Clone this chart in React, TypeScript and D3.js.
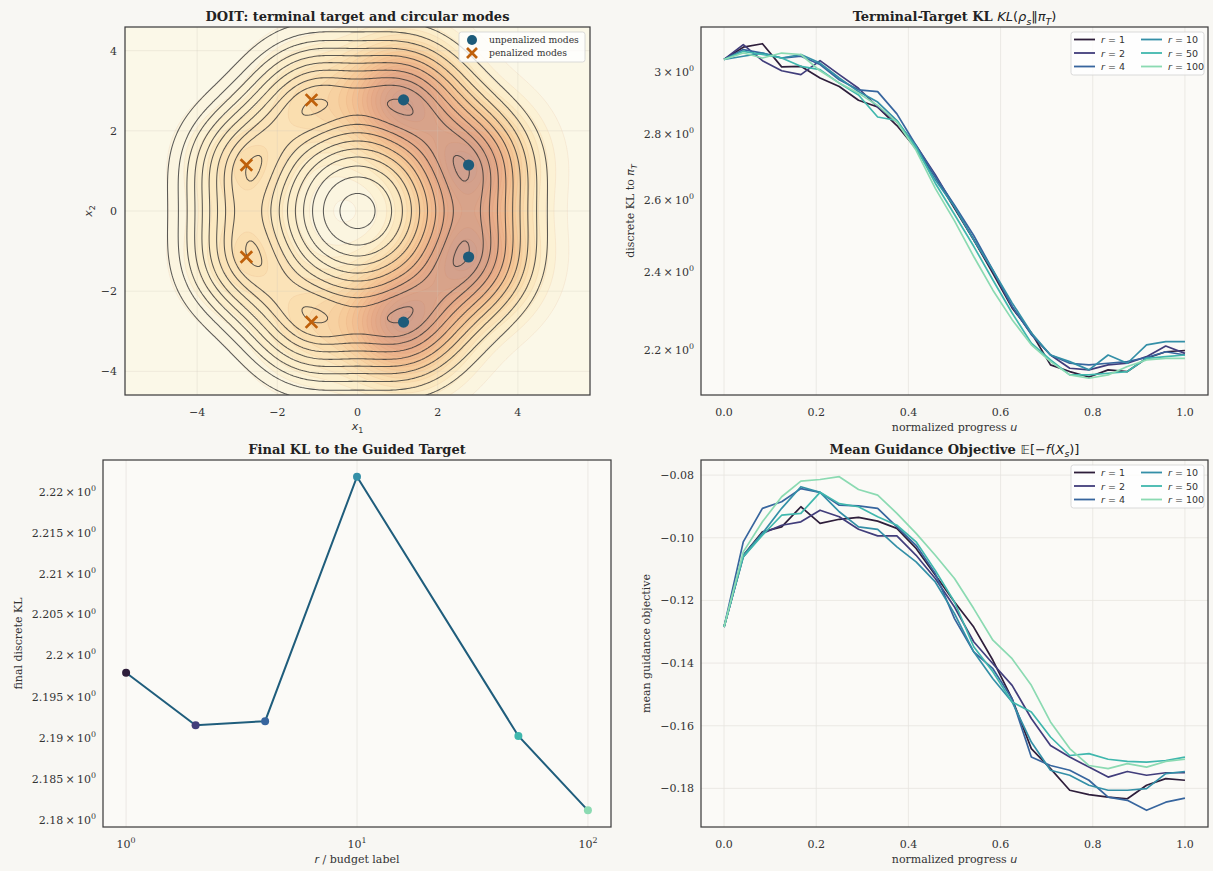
import React, { useEffect, useRef } from 'react';
import * as d3 from 'd3';

// normalized progress grid (25 checkpoints)
const progress = [0, 0.0417, 0.0833, 0.125, 0.1667, 0.2083, 0.25, 0.2917, 0.3333, 0.375, 0.4167, 0.4583, 0.5,
  0.5417, 0.5833, 0.625, 0.6667, 0.7083, 0.75, 0.7917, 0.8333, 0.875, 0.9167, 0.9583, 1];

const budgets = [1, 2, 4, 10, 50, 100];
const budgetColors = ['#2e1e3b', '#413d7b', '#37659e', '#348fa7', '#40b7ad', '#8bdab2'];

// discrete KL to pi_T along the run
const klR1 = [3.041, 3.083, 3.095, 3.016, 3.018, 2.979, 2.951, 2.906, 2.884, 2.825, 2.753, 2.669, 2.576, 2.487, 2.396, 2.305, 2.242, 2.163, 2.147, 2.134, 2.151, 2.147, 2.179, 2.195, 2.198];
const klR2 = [3.041, 3.092, 3.037, 3.003, 2.990, 3.037, 2.990, 2.945, 2.884, 2.836, 2.763, 2.674, 2.580, 2.487, 2.401, 2.309, 2.238, 2.187, 2.155, 2.151, 2.163, 2.167, 2.183, 2.209, 2.191];
const klR4 = [3.041, 3.075, 3.063, 3.046, 3.052, 3.024, 2.973, 2.940, 2.934, 2.862, 2.763, 2.669, 2.585, 2.499, 2.404, 2.309, 2.238, 2.187, 2.167, 2.163, 2.167, 2.171, 2.181, 2.195, 2.187];
const klR10 = [3.041, 3.052, 3.063, 3.046, 3.058, 3.029, 2.979, 2.934, 2.900, 2.841, 2.753, 2.659, 2.580, 2.487, 2.404, 2.318, 2.242, 2.187, 2.171, 2.151, 2.187, 2.167, 2.212, 2.220, 2.220];
const klR50 = [3.041, 3.069, 3.058, 3.046, 3.018, 3.007, 2.962, 2.923, 2.852, 2.841, 2.758, 2.649, 2.558, 2.469, 2.378, 2.292, 2.216, 2.175, 2.139, 2.139, 2.143, 2.147, 2.179, 2.183, 2.187];
const klR100 = [3.041, 3.063, 3.046, 3.063, 3.058, 3.003, 2.962, 2.929, 2.889, 2.836, 2.748, 2.634, 2.540, 2.441, 2.351, 2.275, 2.212, 2.171, 2.139, 2.131, 2.139, 2.159, 2.175, 2.179, 2.179];
const klSeries = [klR1, klR2, klR4, klR10, klR50, klR100];

// mean guidance objective along the run
const objR1 = [-0.1285, -0.1056, -0.0981, -0.0965, -0.0901, -0.0954, -0.0941, -0.0935, -0.0947, -0.0970, -0.1034, -0.1119, -0.1205, -0.1285, -0.1391, -0.1514, -0.1673, -0.1737, -0.1806, -0.1820, -0.1828, -0.1833, -0.1790, -0.1769, -0.1774];
const objR2 = [-0.1285, -0.1061, -0.0986, -0.0960, -0.0949, -0.0912, -0.0933, -0.0973, -0.0994, -0.0994, -0.1056, -0.1130, -0.1221, -0.1332, -0.1402, -0.1471, -0.1577, -0.1663, -0.1700, -0.1732, -0.1764, -0.1746, -0.1758, -0.1750, -0.1750];
const objR4 = [-0.1285, -0.1013, -0.0906, -0.0885, -0.0843, -0.0855, -0.0896, -0.0898, -0.0906, -0.0965, -0.1024, -0.1114, -0.1258, -0.1364, -0.1418, -0.1514, -0.1700, -0.1727, -0.1742, -0.1774, -0.1828, -0.1838, -0.1870, -0.1844, -0.1831];
const objR10 = [-0.1285, -0.1056, -0.0986, -0.0906, -0.0837, -0.0855, -0.0917, -0.0965, -0.0973, -0.1029, -0.1077, -0.1141, -0.1242, -0.1364, -0.1450, -0.1524, -0.1652, -0.1742, -0.1758, -0.1790, -0.1806, -0.1806, -0.1801, -0.1753, -0.1746];
const objR50 = [-0.1285, -0.1061, -0.0992, -0.0928, -0.0922, -0.0855, -0.0891, -0.0901, -0.0933, -0.0960, -0.1013, -0.1104, -0.1205, -0.1348, -0.1428, -0.1524, -0.1556, -0.1636, -0.1695, -0.1689, -0.1707, -0.1714, -0.1716, -0.1711, -0.1700];
const objR100 = [-0.1285, -0.1045, -0.0949, -0.0869, -0.0819, -0.0814, -0.0805, -0.0846, -0.0864, -0.0922, -0.0986, -0.1056, -0.1130, -0.1226, -0.1327, -0.1386, -0.1471, -0.1588, -0.1673, -0.1727, -0.1737, -0.1721, -0.1732, -0.1714, -0.1707];
const objSeries = [objR1, objR2, objR4, objR10, objR50, objR100];

// final KL per budget
const finalKL = [2.1979, 2.1915, 2.1920, 2.2219, 2.1902, 2.1812];

// circular modes of the terminal target
const modeAngles = [22.5, 67.5, 112.5, 157.5, 202.5, 247.5, 292.5, 337.5];
const modePenalized = [false, false, true, true, true, true, false, false];
const modeRadius = 3;
const modeSigma = 1.1;
const guidedSigma = 0.95;
const penalizedWeight = 0.28;
const lineLevels = [0.19, 0.285, 0.38, 0.475, 0.57, 0.665, 0.76, 0.845, 0.915, 0.99];
const fillLevels = [0.03, 0.07, 0.11, 0.16, 0.21, 0.26, 0.31, 0.36, 0.41, 0.46, 0.51, 0.56, 0.61, 0.66, 0.71, 0.76, 0.81, 0.86, 0.91, 0.96];

// ticks
const tlTicks = [-4, -2, 0, 2, 4];
const progressTicks = [0, 0.2, 0.4, 0.6, 0.8, 1.0];
const klTicks = [2.2, 2.4, 2.6, 2.8, 3];
const finalTicks = [2.18, 2.185, 2.19, 2.195, 2.2, 2.205, 2.21, 2.215, 2.22];
const budgetTicks = [1, 10, 100];
const objTicks = [-0.18, -0.16, -0.14, -0.12, -0.10, -0.08];

const W = 1213;
const H = 871;
const FIG_BG = '#f8f7f3';
const AX_BG = '#fbfaf7';
const GRID = '#e7e5e0';
const FRAME = '#3f3f3f';
const TXT = '#333333';
const SERIF = "'DejaVu Serif', serif";
const SANS = "'DejaVu Sans', sans-serif";

type Part = { t: string; italic?: boolean; sans?: boolean; sub?: boolean; sup?: boolean; normal?: boolean };

function rich(sel: any, parts: Part[], size: number) {
  let shift = 0;
  parts.forEach(p => {
    const ts = sel.append('tspan').text(p.t);
    const target = p.sub ? size * 0.3 : p.sup ? -size * 0.45 : 0;
    if (target !== shift) {
      ts.attr('dy', target - shift);
      shift = target;
    }
    ts.attr('font-size', p.sub || p.sup ? size * 0.72 : size);
    if (p.italic) ts.attr('font-style', 'italic');
    if (p.sans) ts.attr('font-family', SANS);
    if (p.normal) ts.attr('font-weight', 'normal');
  });
}

const App = () => {
  const ref = useRef<SVGSVGElement>(null);

  useEffect(() => {
    document.body.style.margin = '0';
    const svg = d3.select(ref.current);
    svg.selectAll('*').remove();

    svg.append('rect').attr('width', W).attr('height', H).attr('fill', FIG_BG);

    const tl = { x: 125, y: 27, w: 465, h: 368 };
    const tr = { x: 701, y: 27, w: 507, h: 368 };
    const bl = { x: 103, y: 460, w: 508, h: 367 };
    const br = { x: 701, y: 460, w: 507, h: 367 };

    const text = (x: number, y: number, parts: Part[], size: number, anchor = 'middle', opts: any = {}) => {
      const t = svg.append('text')
        .attr('x', x).attr('y', y)
        .attr('text-anchor', anchor)
        .attr('font-family', opts.family || SERIF)
        .attr('font-weight', opts.bold ? 'bold' : 'normal')
        .attr('fill', opts.color || TXT);
      if (opts.rotate) t.attr('transform', `rotate(-90,${x},${y})`);
      rich(t, parts, size);
      return t;
    };

    const axesBg = (b: any) => svg.append('rect').attr('x', b.x).attr('y', b.y).attr('width', b.w).attr('height', b.h).attr('fill', AX_BG);
    const axesFrame = (b: any) => svg.append('rect').attr('x', b.x).attr('y', b.y).attr('width', b.w).attr('height', b.h)
      .attr('fill', 'none').attr('stroke', FRAME).attr('stroke-width', 1.25);

    // ---------- top-left: contour panel ----------
    axesBg(tl);
    const xs = d3.scaleLinear().domain([-5.8, 5.8]).range([tl.x, tl.x + tl.w]);
    const ys = d3.scaleLinear().domain([-4.59, 4.59]).range([tl.y + tl.h, tl.y]);

    const step = 0.05;
    const gx0 = -6.5;
    const gy0 = -5.3;
    const nx = Math.round(13 / step) + 1;
    const ny = Math.round(10.6 / step) + 1;
    const mx = modeAngles.map(a => modeRadius * Math.cos((a * Math.PI) / 180));
    const my = modeAngles.map(a => modeRadius * Math.sin((a * Math.PI) / 180));
    const twoT = 2 * modeSigma * modeSigma;
    const twoG = 2 * guidedSigma * guidedSigma;
    const term = new Array(nx * ny);
    const guid = new Array(nx * ny);
    let tMax = 0;
    let gMax = 0;
    for (let j = 0; j < ny; j++) {
      for (let i = 0; i < nx; i++) {
        const x = gx0 + i * step;
        const y = gy0 + j * step;
        let s = 0;
        let g = 0;
        for (let k = 0; k < mx.length; k++) {
          const d2 = (x - mx[k]) ** 2 + (y - my[k]) ** 2;
          s += Math.exp(-d2 / twoT);
          g += (modePenalized[k] ? penalizedWeight : 1) * Math.exp(-d2 / twoG);
        }
        term[j * nx + i] = s;
        guid[j * nx + i] = g;
        if (s > tMax) tMax = s;
        if (g > gMax) gMax = g;
      }
    }
    for (let i = 0; i < term.length; i++) {
      term[i] /= tMax;
      guid[i] /= gMax;
    }

    const proj = d3.geoTransform({
      point: function (px: number, py: number) {
        (this as any).stream.point(xs(gx0 + (px - 0.5) * step), ys(gy0 + (py - 0.5) * step));
      }
    });
    const path = d3.geoPath(proj);

    svg.append('clipPath').attr('id', 'tl-clip')
      .append('rect').attr('x', tl.x).attr('y', tl.y).attr('width', tl.w).attr('height', tl.h);
    const cg = svg.append('g').attr('clip-path', 'url(#tl-clip)');

    const fillColor = d3.scaleLinear<string>()
      .domain([0, 0.1, 0.25, 0.4, 0.55, 0.7, 0.85, 1])
      .range(['#fbf8e8', '#fcefcd', '#fadfb0', '#f6cc9b', '#f0ba8f', '#e6ab89', '#d9a38a', '#cd9f8f'])
      .interpolate(d3.interpolateRgb);

    cg.append('rect').attr('x', tl.x).attr('y', tl.y).attr('width', tl.w).attr('height', tl.h)
      .attr('fill', fillColor(0));

    const fills = d3.contours().size([nx, ny]).thresholds(fillLevels)(guid as any);
    cg.append('g').selectAll('path').data(fills).join('path')
      .attr('d', (d: any) => path(d))
      .attr('fill', (d: any) => fillColor(d.value))
      .attr('stroke', 'rgba(200,120,70,0.16)')
      .attr('stroke-width', 0.6);

    // faint grid
    const gg = cg.append('g').attr('stroke', '#cfc8b8').attr('stroke-opacity', 0.35).attr('stroke-width', 0.8);
    tlTicks.forEach(v => {
      gg.append('line').attr('x1', xs(v)).attr('x2', xs(v)).attr('y1', tl.y).attr('y2', tl.y + tl.h);
      gg.append('line').attr('y1', ys(v)).attr('y2', ys(v)).attr('x1', tl.x).attr('x2', tl.x + tl.w);
    });

    const lines = d3.contours().size([nx, ny]).thresholds(lineLevels)(term as any);
    cg.append('g').selectAll('path').data(lines).join('path')
      .attr('d', (d: any) => path(d))
      .attr('fill', 'none')
      .attr('stroke', '#333333')
      .attr('stroke-opacity', 0.8)
      .attr('stroke-width', 1.05);

    // mode markers
    const modeBlue = '#1d5b7a';
    const modeOrange = '#bf600b';
    const xMark = (cx: number, cy: number, r: number, parent: any) => {
      parent.append('path')
        .attr('d', `M${cx - r},${cy - r}L${cx + r},${cy + r}M${cx - r},${cy + r}L${cx + r},${cy - r}`)
        .attr('stroke', modeOrange).attr('stroke-width', 2.7).attr('fill', 'none');
    };
    modeAngles.forEach((_, k) => {
      if (modePenalized[k]) xMark(xs(mx[k]), ys(my[k]), 5.8, cg);
      else cg.append('circle').attr('cx', xs(mx[k])).attr('cy', ys(my[k])).attr('r', 5.6).attr('fill', modeBlue);
    });

    // legend
    const lgX = tl.x + tl.w - 131;
    const lgY = tl.y + 5;
    svg.append('rect').attr('x', lgX).attr('y', lgY).attr('width', 126).attr('height', 30).attr('rx', 2.5)
      .attr('fill', 'rgba(255,255,255,0.8)').attr('stroke', '#d2d2d2').attr('stroke-width', 0.8);
    svg.append('circle').attr('cx', lgX + 13).attr('cy', lgY + 8).attr('r', 5).attr('fill', modeBlue);
    xMark(lgX + 13, lgY + 21, 5, svg);
    text(lgX + 30, lgY + 11, [{ t: 'unpenalized modes' }], 9.2, 'start');
    text(lgX + 30, lgY + 24, [{ t: 'penalized modes' }], 9.2, 'start');

    axesFrame(tl);
    tlTicks.forEach(v => {
      text(xs(v), tl.y + tl.h + 21, [{ t: v < 0 ? `\u2212${-v}` : `${v}` }], 11);
      text(tl.x - 8, ys(v) + 4, [{ t: v < 0 ? `\u2212${-v}` : `${v}` }], 11, 'end');
    });
    text(tl.x + tl.w / 2, 21, [{ t: 'DOIT: terminal target and circular modes' }], 13, 'middle', { bold: true, color: '#222' });
    text(tl.x + tl.w / 2, tl.y + tl.h + 35, [{ t: 'x', italic: true, sans: true }, { t: '1', sans: true, sub: true }], 11);
    text(92, tl.y + tl.h / 2, [{ t: 'x', italic: true, sans: true }, { t: '2', sans: true, sub: true }], 11, 'middle', { rotate: true });

    // ---------- line panels ----------
    const legendLines = (b: any) => {
      const lx = b.x + b.w - 137;
      const ly = b.y + 5;
      svg.append('rect').attr('x', lx).attr('y', ly).attr('width', 133).attr('height', 43).attr('rx', 2.5)
        .attr('fill', 'rgba(255,255,255,0.8)').attr('stroke', '#d2d2d2').attr('stroke-width', 0.8);
      budgets.forEach((r, i) => {
        const col = Math.floor(i / 3);
        const row = i % 3;
        const x0 = lx + 3 + col * 67;
        const y0 = ly + 7.5 + row * 13.5;
        svg.append('line').attr('x1', x0).attr('x2', x0 + 21).attr('y1', y0).attr('y2', y0)
          .attr('stroke', budgetColors[i]).attr('stroke-width', 1.8);
        text(x0 + 27, y0 + 3.5, [{ t: 'r', italic: true, sans: true }, { t: ` = ${r}`, sans: true }], 9.5, 'start');
      });
    };

    const progressPanel = (b: any, series: number[][], ys2: any, hGrid: boolean) => {
      axesBg(b);
      const xs2 = d3.scaleLinear().domain([-0.05, 1.05]).range([b.x, b.x + b.w]);
      const g = svg.append('g');
      progressTicks.forEach(v => {
        g.append('line').attr('x1', xs2(v)).attr('x2', xs2(v)).attr('y1', b.y).attr('y2', b.y + b.h)
          .attr('stroke', GRID).attr('stroke-width', 0.8);
        text(xs2(v), b.y + b.h + 20.5, [{ t: v.toFixed(1) }], 11);
      });
      if (hGrid) {
        objTicks.forEach(v => {
          g.append('line').attr('y1', ys2(v)).attr('y2', ys2(v)).attr('x1', b.x).attr('x2', b.x + b.w)
            .attr('stroke', GRID).attr('stroke-width', 0.8);
        });
      }
      const line = d3.line<number>().x((_, i) => xs2(progress[i])).y(d => ys2(d));
      series.forEach((s, i) => {
        g.append('path').attr('d', line(s)).attr('fill', 'none')
          .attr('stroke', budgetColors[i]).attr('stroke-width', 1.7).attr('stroke-linejoin', 'round');
      });
      legendLines(b);
      axesFrame(b);
      text(b.x + b.w / 2, b.y + b.h + 35.5, [{ t: 'normalized progress ' }, { t: 'u', italic: true, sans: true }], 11);
    };

    // top-right: KL (log y)
    const klAll = klSeries.flat();
    const klLo = Math.log10(d3.min(klAll)!);
    const klHi = Math.log10(d3.max(klAll)!);
    const klPad = (klHi - klLo) * 0.05;
    const ysKL = d3.scaleLog().domain([10 ** (klLo - klPad), 10 ** (klHi + klPad)]).range([tr.y + tr.h, tr.y]);
    progressPanel(tr, klSeries, ysKL, false);
    klTicks.forEach(v => {
      text(tr.x - 7, ysKL(v) + 4, [{ t: `${v === 3 ? '3' : v.toFixed(1)}\u2009\u00d7\u200910` }, { t: '0', sup: true }], 11, 'end');
    });
    text(tr.x + tr.w / 2, 21, [
      { t: 'Terminal-Target KL ' },
      { t: 'KL', italic: true, sans: true, normal: true },
      { t: '(', sans: true, normal: true },
      { t: 'ρ', italic: true, sans: true, normal: true },
      { t: 's', italic: true, sans: true, normal: true, sub: true },
      { t: '‖', sans: true, normal: true },
      { t: 'π', italic: true, sans: true, normal: true },
      { t: 'T', italic: true, sans: true, normal: true, sub: true },
      { t: ')', sans: true, normal: true }
    ], 13, 'middle', { bold: true, color: '#222' });
    text(634, tr.y + tr.h / 2, [{ t: 'discrete KL to ' }, { t: 'π', italic: true, sans: true }, { t: 'T', italic: true, sans: true, sub: true }], 11, 'middle', { rotate: true });

    // bottom-right: guidance objective
    const objAll = objSeries.flat();
    const oLo = d3.min(objAll)!;
    const oHi = d3.max(objAll)!;
    const oPad = (oHi - oLo) * 0.05;
    const ysObj = d3.scaleLinear().domain([oLo - oPad, oHi + oPad]).range([br.y + br.h, br.y]);
    progressPanel(br, objSeries, ysObj, true);
    objTicks.forEach(v => {
      text(br.x - 7, ysObj(v) + 4, [{ t: `\u2212${(-v).toFixed(2)}` }], 11, 'end');
    });
    text(br.x + br.w / 2, br.y - 6.5, [
      { t: 'Mean Guidance Objective ' },
      { t: '𝔼', sans: true, normal: true },
      { t: '[\u2212', sans: true, normal: true },
      { t: 'f', italic: true, sans: true, normal: true },
      { t: '(', sans: true, normal: true },
      { t: 'X', italic: true, sans: true, normal: true },
      { t: 's', italic: true, sans: true, normal: true, sub: true },
      { t: ')]', sans: true, normal: true }
    ], 13, 'middle', { bold: true, color: '#222' });
    text(650, br.y + br.h / 2, [{ t: 'mean guidance objective' }], 11, 'middle', { rotate: true });

    // ---------- bottom-left: final KL vs budget ----------
    axesBg(bl);
    const xsB = d3.scaleLog().domain([10 ** -0.1, 10 ** 2.1]).range([bl.x, bl.x + bl.w]);
    const fLo = Math.log10(d3.min(finalKL)!);
    const fHi = Math.log10(d3.max(finalKL)!);
    const fPad = (fHi - fLo) * 0.05;
    const ysB = d3.scaleLog().domain([10 ** (fLo - fPad), 10 ** (fHi + fPad)]).range([bl.y + bl.h, bl.y]);
    budgetTicks.forEach((v, i) => {
      svg.append('line').attr('x1', xsB(v)).attr('x2', xsB(v)).attr('y1', bl.y).attr('y2', bl.y + bl.h)
        .attr('stroke', GRID).attr('stroke-width', 0.8);
      text(xsB(v), bl.y + bl.h + 21, [{ t: '10' }, { t: `${i}`, sup: true }], 11);
    });
    const lineB = d3.line<number>().x((_, i) => xsB(budgets[i])).y(d => ysB(d));
    svg.append('path').attr('d', lineB(finalKL)).attr('fill', 'none')
      .attr('stroke', '#1f5d7c').attr('stroke-width', 2);
    finalKL.forEach((v, i) => {
      svg.append('circle').attr('cx', xsB(budgets[i])).attr('cy', ysB(v)).attr('r', 4)
        .attr('fill', budgetColors[i]);
    });
    axesFrame(bl);
    finalTicks.forEach(v => {
      text(bl.x - 7, ysB(v) + 4, [{ t: `${+v.toFixed(3)}\u2009\u00d7\u200910` }, { t: '0', sup: true }], 11, 'end');
    });
    text(bl.x + bl.w / 2, bl.y - 6.5, [{ t: 'Final KL to the Guided Target' }], 13, 'middle', { bold: true, color: '#222' });
    text(bl.x + bl.w / 2, bl.y + bl.h + 36, [{ t: 'r', italic: true, sans: true }, { t: ' / budget label' }], 11);
    text(22, bl.y + bl.h / 2, [{ t: 'final discrete KL' }], 11, 'middle', { rotate: true });
  }, []);

  return <svg ref={ref} width={W} height={H} style={{ display: 'block' }} />;
};

export default App;
